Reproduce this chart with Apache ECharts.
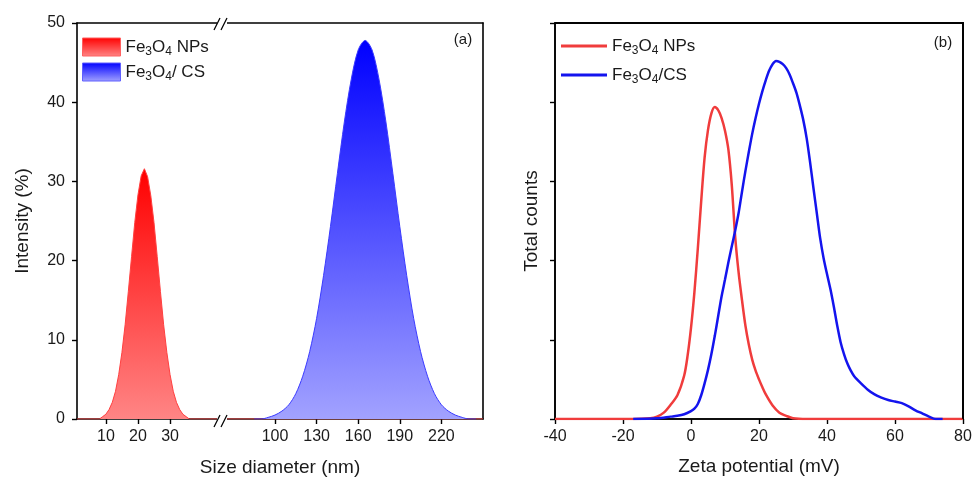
<!DOCTYPE html>
<html><head><meta charset="utf-8">
<script src="https://cdn.jsdelivr.net/npm/echarts@6/dist/echarts.min.js"></script>
<style>html,body{margin:0;padding:0;background:#fff;overflow:hidden}#c{width:972px;height:478px}</style>
</head><body><div id="c"></div>
<script>
// ---------- (a) DLS size distribution ----------
const sizeNP = [1, 8, 9, 10, 11, 12, 13, 14, 15, 16, 17, 18, 19, 20, 21, 22, 23, 24, 25, 26, 27, 28, 29, 30, 31, 32, 33, 34, 35, 36, 250];
const intensityNP = [0, 0, 0.3, 0.6, 1.2, 2.1, 3.5, 5.6, 8.4, 11.9, 16.1, 20.5, 24.8, 28.3, 30.7, 31.6, 30.6, 28.2, 24.8, 20.5, 16.1, 11.9, 8.4, 5.6, 3.5, 2.1, 1.2, 0.6, 0.3, 0, 0];
const sizeCS = [85, 90, 95, 100, 105, 110, 115, 120, 125, 130, 135, 140, 145, 150, 155, 160, 165, 170, 175, 180, 185, 190, 195, 200, 205, 210, 215, 220, 225, 230, 235, 240, 245];
const intensityCS = [0, 0, 0.2, 0.5, 1.0, 1.8, 3.2, 5.4, 8.5, 12.7, 18.1, 24.3, 31.0, 37.5, 42.9, 46.6, 47.8, 46.6, 42.9, 37.5, 31.0, 24.3, 18.1, 12.7, 8.5, 5.4, 3.2, 1.8, 1.0, 0.5, 0.2, 0, 0];
const sizeTicksLow = [10, 20, 30];
const sizeTicksHigh = [100, 130, 160, 190, 220];

// ---------- (b) Zeta potential ----------
const zetaNP = [-40, -17, -12, -10, -8, -6, -4, -2, -1, 0, 1, 2, 3, 4, 5, 6, 7, 8, 9, 10, 11, 12, 13, 14, 15, 16, 17, 18, 19, 20, 21, 22, 24, 26, 28, 30, 34, 80];
const countsNP = [0, 0, 0.01, 0.03, 0.08, 0.18, 0.3, 0.55, 0.8, 1.15, 1.6, 2.15, 2.75, 3.3, 3.65, 3.86, 3.94, 3.9, 3.8, 3.64, 3.4, 2.95, 2.3, 1.85, 1.5, 1.18, 0.94, 0.75, 0.61, 0.5, 0.4, 0.31, 0.17, 0.08, 0.04, 0.01, 0, 0];
const zetaCS = [-17, -10, -6, -4, -2, 0, 1, 2, 3, 4, 5, 6, 7, 8, 9, 10, 11, 12, 13, 14, 15, 16, 17, 18, 19, 20, 21, 22, 23, 24, 25, 26, 27, 28, 29, 30, 31, 32, 33, 34, 35, 36, 37, 38, 39, 40, 41, 42, 43, 44, 45, 46, 47, 48, 50, 52, 54, 56, 58, 60, 62, 64, 66, 68, 70, 72, 74];
const countsCS = [0, 0.01, 0.03, 0.04, 0.06, 0.1, 0.13, 0.19, 0.3, 0.45, 0.62, 0.82, 1.05, 1.3, 1.55, 1.76, 1.98, 2.18, 2.38, 2.6, 2.87, 3.13, 3.37, 3.6, 3.8, 3.98, 4.14, 4.28, 4.4, 4.48, 4.52, 4.51, 4.48, 4.43, 4.35, 4.24, 4.12, 3.96, 3.78, 3.55, 3.25, 2.92, 2.6, 2.28, 2.03, 1.83, 1.64, 1.42, 1.18, 0.97, 0.82, 0.7, 0.61, 0.54, 0.45, 0.37, 0.31, 0.27, 0.24, 0.22, 0.2, 0.16, 0.11, 0.07, 0.03, 0, 0];

const zip = (xs, ys) => xs.map((x, i) => [x, ys[i]]);
const FONT = 'Liberation Sans, Arial, sans-serif';
const TXT = '#1a1a1a';
const RED = '#f03c3c', BLUE = '#1414ee';
const mkGrad = (a, b) => new echarts.graphic.LinearGradient(0, 0, 0, 1, [{offset: 0, color: a}, {offset: 1, color: b}]);

const axLine = () => ({show: true, onZero: false, lineStyle: {color: '#000', width: 1.6}});
const tickOut = () => ({show: true, inside: false, length: 5, lineStyle: {color: '#000', width: 1.4}});
const lblStyle = () => ({color: TXT, fontSize: 16, fontFamily: FONT});
const plain = (grid, pos, min, max) => ({type: 'value', gridIndex: grid, position: pos, min, max,
  axisLine: axLine(), axisTick: {show: false}, axisLabel: {show: false}, splitLine: {show: false}});

const labels = {
  npA: 'Fe{s|3}O{s|4} NPs', csA: 'Fe{s|3}O{s|4}/ CS',
  npB: 'Fe{s|3}O{s|4} NPs', csB: 'Fe{s|3}O{s|4}/CS'
};
const legText = () => ({color: TXT, fontSize: 17, fontFamily: FONT, lineHeight: 22,
  rich: {s: {fontSize: 12, fontFamily: FONT, color: TXT, verticalAlign: 'bottom', lineHeight: 11}}});

// panel (b) frame box (layout only)
const GB = {left: 555, top: 23, width: 408, height: 396};

const chart = echarts.init(document.getElementById('c'));
chart.setOption({
  animation: false,
  backgroundColor: '#fff',
  grid: [
    {left: 77, top: 23, width: 146, height: 396, outerBoundsMode: 'none'},
    {left: 223, top: 23, width: 260, height: 396, outerBoundsMode: 'none'},
    Object.assign({outerBoundsMode: 'none', show: true, borderColor: '#000', borderWidth: 1.6, backgroundColor: 'transparent'}, GB)
  ],
  xAxis: [
    {type: 'value', gridIndex: 0, position: 'bottom', min: 1, max: 46.5,
      axisLine: axLine(), axisTick: Object.assign({customValues: sizeTicksLow}, tickOut()),
      axisLabel: Object.assign({customValues: sizeTicksLow, margin: 10}, lblStyle()), splitLine: {show: false}},
    plain(0, 'top', 1, 46.5),
    {type: 'value', gridIndex: 1, position: 'bottom', min: 62.5, max: 250,
      axisLine: axLine(), axisTick: Object.assign({customValues: sizeTicksHigh}, tickOut()),
      axisLabel: Object.assign({customValues: sizeTicksHigh, margin: 10}, lblStyle()), splitLine: {show: false}},
    plain(1, 'top', 62.5, 250),
    {type: 'value', gridIndex: 2, position: 'bottom', min: -40, max: 80, interval: 20,
      axisLine: axLine(), axisTick: tickOut(), axisLabel: Object.assign({margin: 10}, lblStyle()), splitLine: {show: false},
      name: 'Zeta potential (mV)', nameLocation: 'middle', nameGap: 38,
      nameTextStyle: {color: TXT, fontSize: 19, fontFamily: FONT}},
    plain(2, 'top', -40, 80)
  ],
  yAxis: [
    {type: 'value', gridIndex: 0, position: 'left', min: 0, max: 50, interval: 10,
      axisLine: axLine(), axisTick: tickOut(), axisLabel: Object.assign({margin: 12}, lblStyle()), splitLine: {show: false},
      name: 'Intensity (%)', nameLocation: 'middle', nameGap: 45,
      nameTextStyle: {color: TXT, fontSize: 19, fontFamily: FONT}},
    plain(1, 'right', 0, 50),
    {type: 'value', gridIndex: 2, position: 'left', min: 0, max: 5, interval: 1,
      axisLine: axLine(), axisTick: tickOut(), axisLabel: {show: false}, splitLine: {show: false},
      name: 'Total counts', nameLocation: 'middle', nameGap: 14,
      nameTextStyle: {color: TXT, fontSize: 19, fontFamily: FONT}},
    plain(2, 'right', 0, 5)
  ],
  legend: [
    {left: 82, top: 36, padding: 0, orient: 'vertical', itemWidth: 38, itemHeight: 18, itemGap: 3, selectedMode: false,
      data: [
        {name: 'npA', icon: 'rect', itemStyle: {color: mkGrad('#ff0000', '#ff8585'), borderColor: '#ff6060', borderWidth: 1}},
        {name: 'csA', icon: 'rect', itemStyle: {color: mkGrad('#0000ff', '#a2a2ff'), borderColor: '#6060ff', borderWidth: 1}}
      ],
      formatter: n => labels[n], textStyle: legText()},
    {left: 561, top: 35, padding: 0, orient: 'vertical', itemWidth: 46, itemHeight: 3, itemGap: 7, selectedMode: false,
      data: [
        {name: 'npB', icon: 'rect', itemStyle: {color: RED}},
        {name: 'csB', icon: 'rect', itemStyle: {color: BLUE}}
      ],
      formatter: n => labels[n], textStyle: legText()}
  ],
  series: [
    {name: 'npA', type: 'line', xAxisIndex: 0, yAxisIndex: 0, data: zip(sizeNP, intensityNP),
      symbol: 'none', color: RED, lineStyle: {color: '#ff4040', width: 1}, areaStyle: {color: mkGrad('#ff0000', '#ff8585'), opacity: 1}, z: 5},
    {name: 'npA_base', type: 'line', xAxisIndex: 2, yAxisIndex: 1, data: zip(sizeNP, intensityNP),
      symbol: 'none', color: RED, lineStyle: {color: '#ff4040', width: 1}, z: 5},
    {name: 'csA', type: 'line', xAxisIndex: 2, yAxisIndex: 1, data: zip(sizeCS, intensityCS), smooth: 0.3,
      symbol: 'none', color: BLUE, lineStyle: {color: '#3a3aff', width: 1}, areaStyle: {color: mkGrad('#0000ff', '#a2a2ff'), opacity: 1}, z: 6},
    {name: 'npB', type: 'line', xAxisIndex: 4, yAxisIndex: 2, data: zip(zetaNP, countsNP), smooth: 0.3,
      symbol: 'none', color: RED, lineStyle: {color: RED, width: 2.5}, z: 5},
    {name: 'csB', type: 'line', xAxisIndex: 4, yAxisIndex: 2, data: zip(zetaCS, countsCS), smooth: 0.3,
      symbol: 'none', color: BLUE, lineStyle: {color: BLUE, width: 2.5}, z: 6}
  ],
  graphic: [
    {type: 'text', x: 280, y: 468, style: {text: 'Size diameter (nm)', fill: TXT, fontSize: 19, fontFamily: FONT, align: 'center', verticalAlign: 'middle'}},
    {type: 'text', x: 463, y: 40, style: {text: '(a)', fill: TXT, fontSize: 15, fontFamily: FONT, align: 'center', verticalAlign: 'middle'}},
    {type: 'text', x: 943, y: 43, style: {text: '(b)', fill: TXT, fontSize: 15, fontFamily: FONT, align: 'center', verticalAlign: 'middle'}},
    {type: 'rect', z: 50, shape: {x: GB.left, y: GB.top - 0.8, width: GB.width + 0.8, height: 1.6}, style: {fill: '#000'}},
    {type: 'rect', z: 50, shape: {x: GB.left + GB.width - 0.8, y: GB.top - 0.8, width: 1.6, height: GB.height + 0.8}, style: {fill: '#000'}},
    {type: 'rect', shape: {x: 217, y: 20, width: 10, height: 7}, style: {fill: '#fff'}, z: 20},
    {type: 'line', shape: {x1: 214, y1: 30, x2: 220, y2: 18}, style: {stroke: '#000', lineWidth: 1.2}, z: 21},
    {type: 'line', shape: {x1: 221, y1: 30, x2: 227, y2: 18}, style: {stroke: '#000', lineWidth: 1.2}, z: 21},
    {type: 'rect', shape: {x: 217, y: 416, width: 10, height: 7}, style: {fill: '#fff'}, z: 20},
    {type: 'line', shape: {x1: 214, y1: 427, x2: 220, y2: 415}, style: {stroke: '#000', lineWidth: 1.2}, z: 21},
    {type: 'line', shape: {x1: 221, y1: 427, x2: 227, y2: 415}, style: {stroke: '#000', lineWidth: 1.2}, z: 21}
  ]
});
</script></body></html>
